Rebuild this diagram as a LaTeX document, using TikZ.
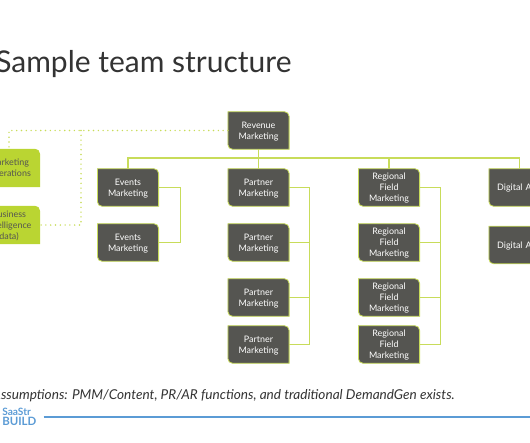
\documentclass[tikz,border=0pt]{standalone}
\usepackage{fontspec}
\setmainfont{Lato}
\usetikzlibrary{backgrounds}
\definecolor{darkbox}{HTML}{555551}
\definecolor{limebox}{HTML}{BAD532}
\definecolor{limeline}{HTML}{C8DC5A}
\definecolor{footblue}{HTML}{5B9BD5}
\tikzset{
    cornerbox/.style 2 args={
        minimum width=45.5pt, minimum height=27.8pt, inner sep=0pt, align=center,
        font=\fontsize{6.7}{8.2}\selectfont, text depth=-1pt,
        append after command={\pgfextra{\begin{pgfonlayer}{background}
            \draw[fill=#1, draw=#2, line width=0.6pt]
                (\tikzlastnode.north west) [rounded corners=3.5pt] -- (\tikzlastnode.north east)
                [sharp corners] -- (\tikzlastnode.south east)
                [rounded corners=3.5pt] -- (\tikzlastnode.south west)
                [sharp corners] -- cycle;
        \end{pgfonlayer}}}
    },
    teambox/.style={cornerbox={darkbox}{limeline}, text=white},
    opsbox/.style={cornerbox={limebox}{limebox}, text=darkbox},
    digitalbox/.style={teambox, text width=33.5pt, align=left, inner xsep=6pt},
    link/.style={limeline, line width=0.8pt},
    dotlink/.style={limeline, line width=1.2pt, line cap=round, dash pattern=on 0pt off 3.6pt}
}
\begin{document}
\begin{tikzpicture}[x=0.75pt, y=-0.75pt]
    \useasboundingbox (0,0) rectangle (530,442);

    % Title
    \node[anchor=base west, inner sep=0pt, text=black!80, font=\fontsize{22.5}{26}\selectfont] (title) at (-5,73) {Sample team structure};

    % Top box
    \node[teambox] (revenue) at (258.5,130.5) {Revenue\\Marketing};

    % Events column
    \node[teambox] (events1) at (128,187.5) {Events\\Marketing};
    \node[teambox] (events2) at (128,242.5) {Events\\Marketing};

    % Partner column
    \node[teambox] (partner1) at (258.5,187.5) {Partner\\Marketing};
    \node[teambox] (partner2) at (258.5,242.5) {Partner\\Marketing};
    \node[teambox] (partner3) at (258.5,297.5) {Partner\\Marketing};
    \node[teambox] (partner4) at (258.5,344.5) {Partner\\Marketing};

    % Regional column
    \node[teambox] (regional1) at (389,187.5) {Regional\\Field\\Marketing};
    \node[teambox] (regional2) at (389,242.5) {Regional\\Field\\Marketing};
    \node[teambox] (regional3) at (389,297.5) {Regional\\Field\\Marketing};
    \node[teambox] (regional4) at (389,344.5) {Regional\\Field\\Marketing};

    % Digital column
    \node[digitalbox] (digital1) at (519.5,187.5) {Digital A};
    \node[digitalbox] (digital2) at (519.5,245) {Digital A};

    % Green boxes
    \node[opsbox] (operations) at (9,168) {Marketing\\Operations};
    \node[opsbox] (business) at (9,225) {Business\\Intelligence\\data)};

    % Tree lines
    \coordinate (bus) at (258.5,158);
    \draw[link] (revenue) -- (partner1);
    \foreach \head in {events1, regional1, digital1}
        \draw[link] (bus) -| (\head.north);

    % Side lines
    \draw[link] (events1.east) -- ++(22,0) |- (events2.east);
    \foreach \first/\second in {partner1/partner2, partner1/partner3, partner1/partner4, regional1/regional2, regional1/regional3, regional1/regional4}
        \draw[link] (\first.east) -- ++(20.5,0) |- (\second.east);

    % Dotted lines
    \draw[dotlink] (revenue.west) -| (operations.north);
    \coordinate (dotturn) at (81,130.5);
    \draw[dotlink] (dotturn) |- (business.east);

    % Assumptions line
    \node[anchor=base east, inner sep=0pt, text=black!80, font=\fontsize{10.2}{12}\itshape] (note) at (455,399) {Assumptions: PMM/Content, PR/AR functions, and traditional DemandGen exists.};

    % Footer
    \node[anchor=west, inner sep=0pt, align=left, text=footblue, font=\fontsize{7.6}{7}\selectfont\bfseries] (logo) at (2,417) {SaaStr\\{\fontsize{8.6}{7}\selectfont BUILD}};
    \coordinate (footend) at (530,417);
    \draw[footblue, line width=1pt] (logo.east) ++(7,0) -- (footend);
\end{tikzpicture}
\end{document}
